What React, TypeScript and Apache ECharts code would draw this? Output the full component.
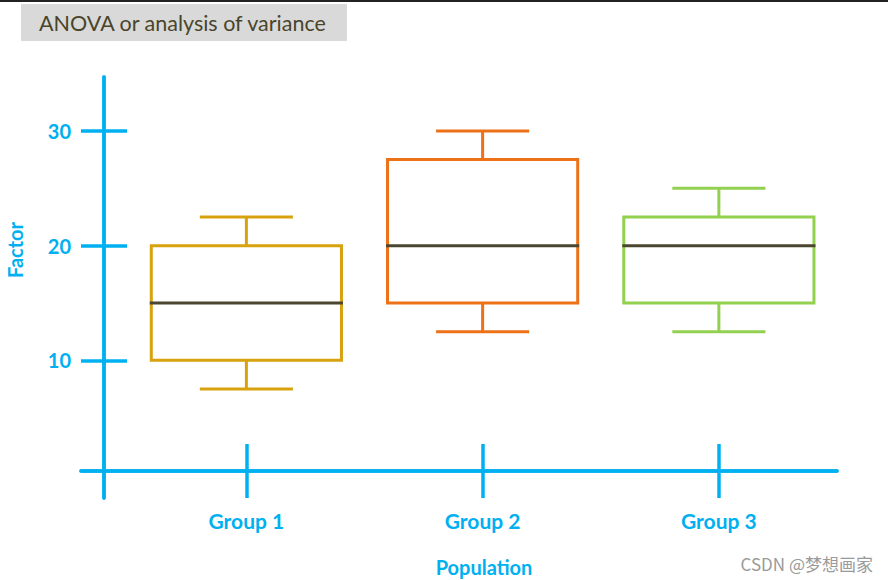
import React, { useEffect, useRef } from "react";
import * as echarts from "echarts";

const categories = ["Group 1", "Group 2", "Group 3"];
const minValues = [7.5, 12.5, 12.5];
const q1Values = [10, 15, 15];
const medianValues = [15, 20, 20];
const q3Values = [20, 27.5, 22.5];
const maxValues = [22.5, 30, 25];
const yTickValues = [10, 20, 30];
const groupColors = ["#d8a20e", "#ec7117", "#92d050"];

const AXIS_COLOR = "#00b0f0";
const MEDIAN_COLOR = "#4a4630";

export default function App() {
  const ref = useRef<HTMLDivElement>(null);
  useEffect(() => {
    document.body.style.margin = "0";
    const chart = echarts.init(ref.current!, null, { renderer: "svg" });
    const positions = categories.map((_, i) => i + 1);
    const data = categories.map((_, i) => [
      positions[i],
      minValues[i],
      q1Values[i],
      medianValues[i],
      q3Values[i],
      maxValues[i],
    ]);
    const labelFont = {
      color: AXIS_COLOR,
      fontFamily: "Lato",
      fontWeight: "bold" as const,
      fontSize: 20,
    };
    const axisLine = { show: true, onZero: false, lineStyle: { color: AXIS_COLOR, width: 3.5 } };
    const xCommon = {
      type: "value" as const,
      min: 0.3,
      max: 3.5,
      position: "bottom" as const,
      offset: -27,
      splitLine: { show: false },
      axisLine,
    };
    const yCommon = {
      type: "value" as const,
      min: -2,
      max: 34.7,
      position: "left" as const,
      offset: -23,
      splitLine: { show: false },
      axisLine,
    };
    chart.setOption({
      animation: false,
      title: {
        text: "ANOVA or analysis of variance",
        left: 21,
        top: 4,
        backgroundColor: "#d9d9d9",
        padding: [8, 19, 7, 18],
        textStyle: { color: "#494529", fontSize: 21.5, fontWeight: "normal", fontFamily: "Lato" },
      },
      grid: { left: 81, right: 51, top: 77, bottom: 82 },
      xAxis: [
        {
          ...xCommon,
          axisTick: { show: true, customValues: positions, length: 27, lineStyle: { color: AXIS_COLOR, width: 3.5 } },
          axisLabel: {
            ...labelFont,
            fontSize: 21,
            customValues: positions,
            margin: 39,
            formatter: (v: number) => categories[Math.round(v) - 1] ?? "",
          },
        },
        {
          ...xCommon,
          axisTick: { show: true, inside: true, customValues: positions, length: 27, lineStyle: { color: AXIS_COLOR, width: 3.5 } },
          axisLabel: { show: false },
        },
      ],
      yAxis: [
        {
          ...yCommon,
          axisTick: { show: true, customValues: yTickValues, length: 23, lineStyle: { color: AXIS_COLOR, width: 3.5 } },
          axisLabel: { ...labelFont, customValues: yTickValues, margin: 33 },
        },
        {
          ...yCommon,
          axisTick: { show: true, inside: true, customValues: yTickValues, length: 23, lineStyle: { color: AXIS_COLOR, width: 3.5 } },
          axisLabel: { show: false },
        },
      ],
      series: [
        {
          type: "custom",
          xAxisIndex: 0,
          yAxisIndex: 0,
          dimensions: ["pos", "min", "q1", "median", "q3", "max"],
          encode: { x: 0, y: [1, 2, 3, 4, 5] },
          data,
          renderItem: (params: any, api: any) => {
            const x = api.value(0);
            const color = groupColors[params.dataIndex];
            const boxW = api.size([0.805, 0])[0];
            const capW = api.size([0.394, 0])[0];
            const pMin = api.coord([x, api.value(1)]);
            const pQ1 = api.coord([x, api.value(2)]);
            const pMed = api.coord([x, api.value(3)]);
            const pQ3 = api.coord([x, api.value(4)]);
            const pMax = api.coord([x, api.value(5)]);
            const cx = pMed[0];
            const lw = 3;
            const line = (x1: number, y1: number, x2: number, y2: number, stroke: string) => ({
              type: "line",
              shape: { x1, y1, x2, y2 },
              style: { stroke, lineWidth: lw },
            });
            return {
              type: "group",
              children: [
                line(cx, pMax[1], cx, pQ3[1], color),
                line(cx - capW / 2, pMax[1], cx + capW / 2, pMax[1], color),
                line(cx, pQ1[1], cx, pMin[1], color),
                line(cx - capW / 2, pMin[1], cx + capW / 2, pMin[1], color),
                {
                  type: "rect",
                  shape: { x: cx - boxW / 2, y: pQ3[1], width: boxW, height: pQ1[1] - pQ3[1] },
                  style: { fill: "none", stroke: color, lineWidth: lw },
                },
                line(cx - boxW / 2 - lw / 2, pMed[1], cx + boxW / 2 + lw / 2, pMed[1], MEDIAN_COLOR),
              ],
            };
          },
        },
      ],
      graphic: [
        { type: "rect", left: 0, top: 0, shape: { width: 888, height: 2 }, style: { fill: "#222" } },
        {
          type: "text",
          x: 15,
          y: 250,
          rotation: Math.PI / 2,
          style: { text: "Factor", fill: AXIS_COLOR, fontFamily: "Lato", fontWeight: "bold", fontSize: 20, align: "center", verticalAlign: "middle" },
        },
        {
          type: "text",
          x: 484,
          y: 567,
          style: { text: "Population", fill: AXIS_COLOR, fontFamily: "Lato", fontWeight: "bold", fontSize: 20, align: "center", verticalAlign: "middle" },
        },
        {
          type: "text",
          x: 873,
          y: 563,
          style: { text: "CSDN @梦想画家", fill: "#9a9a9a", fontFamily: "Noto Sans CJK SC", fontSize: 17, align: "right", verticalAlign: "middle" },
        },
      ],
    });
    return () => chart.dispose();
  }, []);
  return <div ref={ref} style={{ width: 888, height: 580 }} />;
}
